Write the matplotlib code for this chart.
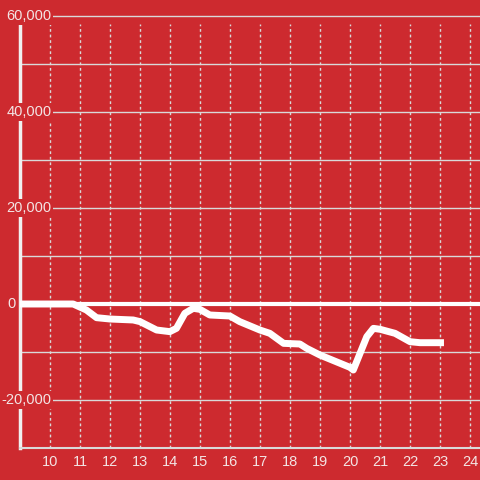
import matplotlib.pyplot as plt
import matplotlib.transforms as mtransforms

plt.rcParams['font.family'] = ['Liberation Sans', 'DejaVu Sans']

hours = [9.0, 10.77, 11.21, 11.55, 12.0, 12.77, 13.0, 13.55, 13.99, 14.21,
         14.49, 14.77, 14.99, 15.32, 15.99, 16.32, 16.99, 17.32, 17.78, 18.32,
         18.55, 18.99, 19.99, 20.1, 20.55, 20.77, 21.0, 21.49, 21.99, 22.32, 23.12]
balance = [0, 0, -1250, -2850, -3130, -3330, -3680, -5420, -5760, -5070,
           -1940, -900, -1110, -2290, -2500, -3680, -5420, -6110, -8200, -8330,
           -9240, -10630, -13200, -13750, -6800, -5070, -5280, -6110, -7850, -8060, -8060]

x_ticks = list(range(10, 25))
y_ticks = [60000, 40000, 20000, 0, -20000]
y_labels = ['60,000', '40,000', '20,000', '0', '-20,000']
y_minor = [50000, 30000, 10000, -10000]

bg = '#cd2a2f'
grid = '#d9d9d9'
txt = '#f3e4e4'

fig = plt.figure(figsize=(4.8, 4.8), dpi=100, facecolor=bg)
ax = fig.add_axes([20 / 480, 32 / 480, 460 / 480, 432 / 480])
ax.set_facecolor(bg)
ax.set_xlim(9, 24.32)
ax.set_ylim(-30000, 60000)

for s in ['top', 'right']:
    ax.spines[s].set_visible(False)
ax.spines['left'].set_color('#f0f0f0')
ax.spines['left'].set_linewidth(2.5)
ax.spines['left'].set_bounds(-30000, 58300)
ax.spines['left'].set_zorder(2)
ax.spines['bottom'].set_color(grid)
ax.spines['bottom'].set_linewidth(1.5)

# grid
ax.vlines(x_ticks, -30000, 58300, colors=grid, linestyles=(0, (2, 2)), linewidth=1, zorder=1)
for v in y_ticks + y_minor:
    if v == 0:
        continue
    ax.axhline(v, color=grid, linewidth=1, zorder=1, clip_on=False)
ax.axhline(0, color='white', linewidth=3, zorder=3)

ax.plot(hours, balance, color='white', linewidth=5, solid_joinstyle='round',
        solid_capstyle='butt', zorder=4)

ax.set_xticks(x_ticks)
ax.set_xticklabels([str(t) for t in x_ticks])
ax.tick_params(axis='x', length=0, pad=5, labelsize=10.5, labelcolor=txt)
ax.set_yticks([])

trans = mtransforms.blended_transform_factory(fig.transFigure, ax.transData)
for v, lab in zip(y_ticks, y_labels):
    xr = 15.5 / 480 if v == 0 else 51.5 / 480
    ax.text(xr, v, lab, transform=trans, ha='right', va='center', fontsize=10.5,
            color=txt, zorder=5,
            bbox=dict(boxstyle='square,pad=0.12', facecolor=bg, edgecolor='none'))

fig.savefig('out.png', dpi=100, facecolor=bg)
